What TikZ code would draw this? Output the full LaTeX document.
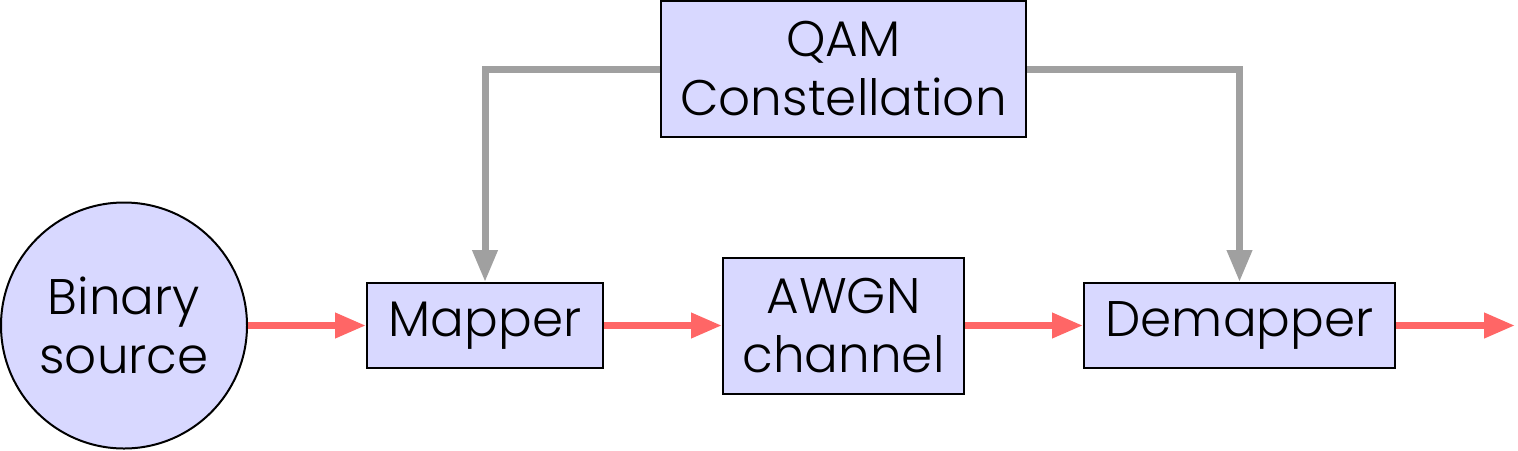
\documentclass[tikz,border=0pt]{standalone}
\usepackage{fontspec}
\setmainfont{Poppins}[UprightFont={* Light}]
\usetikzlibrary{arrows.meta}
\definecolor{boxfill}{RGB}{216,216,255}
\definecolor{redline}{RGB}{255,102,102}
\definecolor{grayline}{RGB}{160,160,160}
\begin{document}
\begin{tikzpicture}[x=0.5pt,y=-0.5pt,
  blk/.style={draw=black,line width=1pt,fill=boxfill,rectangle,inner sep=0pt,align=center,font=\fontsize{25}{29.5}\selectfont},
  sig/.style={draw=redline,line width=3.5pt,-{Triangle[length=15.5pt,width=12pt]}},
  ctl/.style={draw=grayline,line width=3.5pt,-{Triangle[length=16pt,width=12pt]}}]
\useasboundingbox (0,0) rectangle (1518,450);
\node[blk,circle,minimum size=123pt] (src) at (124,325.5) {Binary\\source};
\node[blk,minimum width=118pt,minimum height=42.5pt] (map) at (485,325.5) {Mapper};
\node[blk,minimum width=120.5pt,minimum height=68pt] (awgn) at (843.5,325.5) {AWGN\\channel};
\node[blk,minimum width=155.5pt,minimum height=42.5pt] (demap) at (1239.5,325.5) {Demapper};
\node[blk,minimum width=182.5pt,minimum height=68pt] (qam) at (843.5,69) {QAM\\Constellation};
\coordinate (out) at (1515,325.5);
\draw[sig] (src.east) -- (src.east -| map.west);
\draw[sig] (map.east) -- (map.east -| awgn.west);
\draw[sig] (awgn.east) -- (awgn.east -| demap.west);
\draw[sig] (demap.east) -- (out);
\draw[ctl] (qam.west) -| (map.north);
\draw[ctl] (qam.east) -| (demap.north);
\end{tikzpicture}
\end{document}
